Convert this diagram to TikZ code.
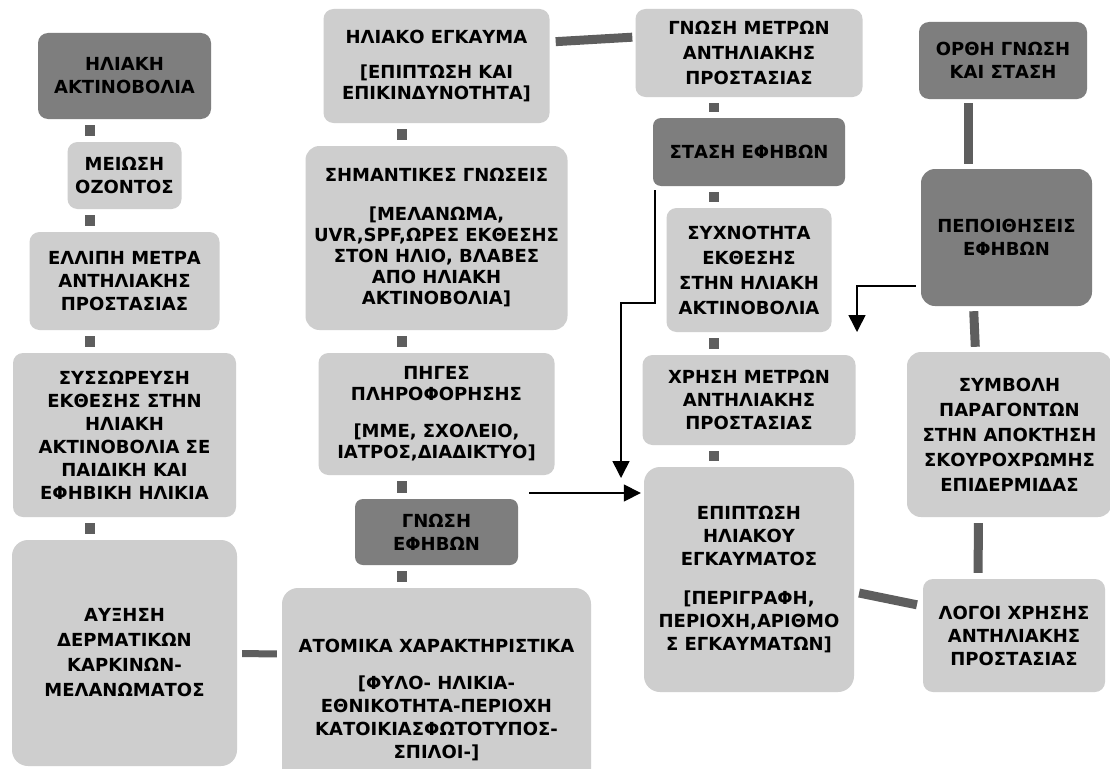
\documentclass[tikz,border=0pt]{standalone}
\usepackage{fontspec}
\setmainfont{DejaVu Sans}
\usetikzlibrary{calc,arrows.meta}
\definecolor{lightbox}{HTML}{CECECE}
\definecolor{darkbox}{HTML}{7E7E7E}
\definecolor{barcol}{HTML}{5E5E5E}
\tikzset{
 box/.style={rounded corners=10pt, inner sep=0pt, align=center, text=black,
   font=\bfseries\fontsize{18}{23}\selectfont},
 lbox/.style={box, fill=lightbox},
 dbox/.style={box, fill=darkbox},
 tight/.style={font=\bfseries\fontsize{18}{21}\selectfont},
 loose/.style={font=\bfseries\fontsize{18}{25}\selectfont},
 sq/.style={draw=barcol, line width=10pt, shorten <=6pt, shorten >=6pt},
 bar/.style={draw=barcol, line width=9pt},
 arr/.style={draw=black, line width=1.6pt, -{Triangle[length=17pt,width=17pt]}},
}
\begin{document}
\begin{tikzpicture}[x=1pt,y=1pt]
\useasboundingbox (0,0) rectangle (1110,-768);
\fill[white] (0,0) rectangle (1110,-768);

% left column
\node[dbox, minimum width=173, minimum height=86] (hak) at (124.5,-76) {ΗΛΙΑΚΗ\\ΑΚΤΙΝΟΒΟΛΙΑ};
\node[lbox, minimum width=114, minimum height=67] (meiosi) at (124.5,-175.5) {ΜΕΙΩΣΗ\\ΟΖΟΝΤΟΣ};
\node[lbox, minimum width=190, minimum height=98] (ellipi) at (124.5,-281) {ΕΛΛΙΠΗ ΜΕΤΡΑ\\ΑΝΤΗΛΙΑΚΗΣ\\ΠΡΟΣΤΑΣΙΑΣ};
\node[lbox, minimum width=223, minimum height=164] (syss) at (124.5,-435) {ΣΥΣΣΩΡΕΥΣΗ\\ΕΚΘΕΣΗΣ ΣΤΗΝ\\ΗΛΙΑΚΗ\\ΑΚΤΙΝΟΒΟΛΙΑ ΣΕ\\ΠΑΙΔΙΚΗ ΚΑΙ\\ΕΦΗΒΙΚΗ ΗΛΙΚΙΑ};
\node[lbox, loose, rounded corners=16pt, minimum width=225, minimum height=226] (afxisi) at (124.5,-653) {ΑΥΞΗΣΗ\\ΔΕΡΜΑΤΙΚΩΝ\\ΚΑΡΚΙΝΩΝ-\\ΜΕΛΑΝΩΜΑΤΟΣ};

% middle column
\node[lbox, tight, minimum width=226, minimum height=114] (egk) at (436.5,-66) {ΗΛΙΑΚΟ ΕΓΚΑΥΜΑ\\[14pt]{[}ΕΠΙΠΤΩΣΗ ΚΑΙ\\ΕΠΙΚΙΝΔΥΝΟΤΗΤΑ]};
\node[lbox, tight, rounded corners=14pt, minimum width=262, minimum height=184] (siman) at (436.5,-238) {ΣΗΜΑΝΤΙΚΕΣ ΓΝΩΣΕΙΣ\\[18pt]{[}ΜΕΛΑΝΩΜΑ,\\UVR,SPF,ΩΡΕΣ ΕΚΘΕΣΗΣ\\ΣΤΟΝ ΗΛΙΟ, ΒΛΑΒΕΣ\\ΑΠΟ ΗΛΙΑΚΗ\\ΑΚΤΙΝΟΒΟΛΙΑ]};
\node[lbox, tight, minimum width=236, minimum height=122] (piges) at (436.5,-414) {ΠΗΓΕΣ\\ΠΛΗΡΟΦΟΡΗΣΗΣ\\[16pt]{[}ΜΜΕ, ΣΧΟΛΕΙΟ,\\ΙΑΤΡΟΣ,ΔΙΑΔΙΚΤΥΟ]};
\node[dbox, rounded corners=8pt, minimum width=163, minimum height=66] (gnosi) at (436.5,-532) {ΓΝΩΣΗ\\ΕΦΗΒΩΝ};
\node[lbox, rounded corners=16pt, minimum width=309, minimum height=224] (atomika) at (436.5,-700) {ΑΤΟΜΙΚΑ ΧΑΡΑΚΤΗΡΙΣΤΙΚΑ\\[14pt]{[}ΦΥΛΟ- ΗΛΙΚΙΑ-\\ΕΘΝΙΚΟΤΗΤΑ-ΠΕΡΙΟΧΗ\\ΚΑΤΟΙΚΙΑΣΦΩΤΟΤΥΠΟΣ-\\ΣΠΙΛΟΙ-]};

% right-centre column
\node[lbox, loose, minimum width=227, minimum height=88] (gnmetron) at (749,-53) {ΓΝΩΣΗ ΜΕΤΡΩΝ\\ΑΝΤΗΛΙΑΚΗΣ\\ΠΡΟΣΤΑΣΙΑΣ};
\node[dbox, rounded corners=8pt, minimum width=192, minimum height=68] (stasi) at (749,-152) {ΣΤΑΣΗ ΕΦΗΒΩΝ};
\node[lbox, loose, minimum width=165, minimum height=124] (sychn) at (749,-270) {ΣΥΧΝΟΤΗΤΑ\\ΕΚΘΕΣΗΣ\\ΣΤΗΝ ΗΛΙΑΚΗ\\ΑΚΤΙΝΟΒΟΛΙΑ};
\node[lbox, minimum width=213, minimum height=90] (chrisi) at (749,-400) {ΧΡΗΣΗ ΜΕΤΡΩΝ\\ΑΝΤΗΛΙΑΚΗΣ\\ΠΡΟΣΤΑΣΙΑΣ};
\node[lbox, rounded corners=16pt, minimum width=210, minimum height=225] (epiptosi) at (749,-579.5) {ΕΠΙΠΤΩΣΗ\\ΗΛΙΑΚΟΥ\\ΕΓΚΑΥΜΑΤΟΣ\\[16pt]{[}ΠΕΡΙΓΡΑΦΗ,\\ΠΕΡΙΟΧΗ,ΑΡΙΘΜΟ\\Σ ΕΓΚΑΥΜΑΤΩΝ]};

% right column
\node[dbox, minimum width=168, minimum height=77] (orthi) at (1003,-60.5) {ΟΡΘΗ ΓΝΩΣΗ\\ΚΑΙ ΣΤΑΣΗ};
\node[dbox, rounded corners=14pt, minimum width=171, minimum height=137] (pepoith) at (1006.5,-237.5) {ΠΕΠΟΙΘΗΣΕΙΣ\\ΕΦΗΒΩΝ};
\node[lbox, loose, rounded corners=14pt, minimum width=205, minimum height=165] (symvoli) at (1009.5,-434.5) {ΣΥΜΒΟΛΗ\\ΠΑΡΑΓΟΝΤΩΝ\\ΣΤΗΝ ΑΠΟΚΤΗΣΗ\\ΣΚΟΥΡΟΧΡΩΜΗΣ\\ΕΠΙΔΕΡΜΙΔΑΣ};
\node[lbox, minimum width=182, minimum height=113] (logoi) at (1014,-635.5) {ΛΟΓΟΙ ΧΡΗΣΗΣ\\ΑΝΤΗΛΙΑΚΗΣ\\ΠΡΟΣΤΑΣΙΑΣ};

% small square connectors
\draw[sq] ($(hak.south)+(-35,0)$) -- ($(meiosi.north)+(-35,0)$);
\draw[sq] ($(meiosi.south)+(-35,0)$) -- ($(ellipi.north)+(-35,0)$);
\draw[sq] ($(ellipi.south)+(-35,0)$) -- ($(syss.north)+(-35,0)$);
\draw[sq] ($(syss.south)+(-35,0)$) -- ($(afxisi.north)+(-35,0)$);
\draw[sq] ($(egk.south)+(-35,0)$) -- ($(siman.north)+(-35,0)$);
\draw[sq] ($(siman.south)+(-35,0)$) -- ($(piges.north)+(-35,0)$);
\draw[sq] ($(piges.south)+(-35,0)$) -- ($(gnosi.north)+(-35,0)$);
\draw[sq] ($(gnosi.south)+(-35,0)$) -- ($(atomika.north)+(-35,0)$);
\draw[sq] ($(gnmetron.south)+(-35,0)$) -- ($(stasi.north)+(-35,0)$);
\draw[sq] ($(stasi.south)+(-35,0)$) -- ($(sychn.north)+(-35,0)$);
\draw[sq] ($(sychn.south)+(-35,0)$) -- ($(chrisi.north)+(-35,0)$);
\draw[sq] ($(chrisi.south)+(-35,0)$) -- ($(epiptosi.north)+(-35,0)$);

% thick bars
\draw[bar, shorten <=6pt, shorten >=3pt] ($(egk.east)+(0,24)$) -- ($(gnmetron.west)+(0,16)$);
\draw[bar, line width=7pt, shorten <=5pt, shorten >=5pt] ($(afxisi.east)+(0,-0.5)$) -- ($(atomika.west)+(0,46)$);
\draw[bar, shorten <=4pt, shorten >=5pt] ($(orthi.south)+(-35,0)$) -- ($(pepoith.north)+(-38.5,0)$);
\draw[bar, shorten <=5pt, shorten >=5pt] ($(pepoith.south)+(-33,0)$) -- ($(symvoli.north)+(-34,0)$);
\draw[bar, shorten <=6pt, shorten >=6pt] ($(symvoli.south)+(-31,0)$) -- ($(logoi.north)+(-36,0)$);
\draw[bar, shorten <=5pt, shorten >=6pt] ($(epiptosi.east)+(0,-12.5)$) -- ($(logoi.west)+(0,29.5)$);

% arrows
\coordinate (a1s) at (529,-493);
\coordinate (a2e) at (621,-478);
\coordinate (a3e) at (857,-332);
\draw[arr] (a1s) -- ($(epiptosi.west)+(-3,86.5)$);
\draw[arr] ($(stasi.south west)+(2,-4)$) |- (621,-303) -- (a2e);
\draw[arr] ($(pepoith.west)+(-5,-48.5)$) -| (a3e);
\end{tikzpicture}
\end{document}
